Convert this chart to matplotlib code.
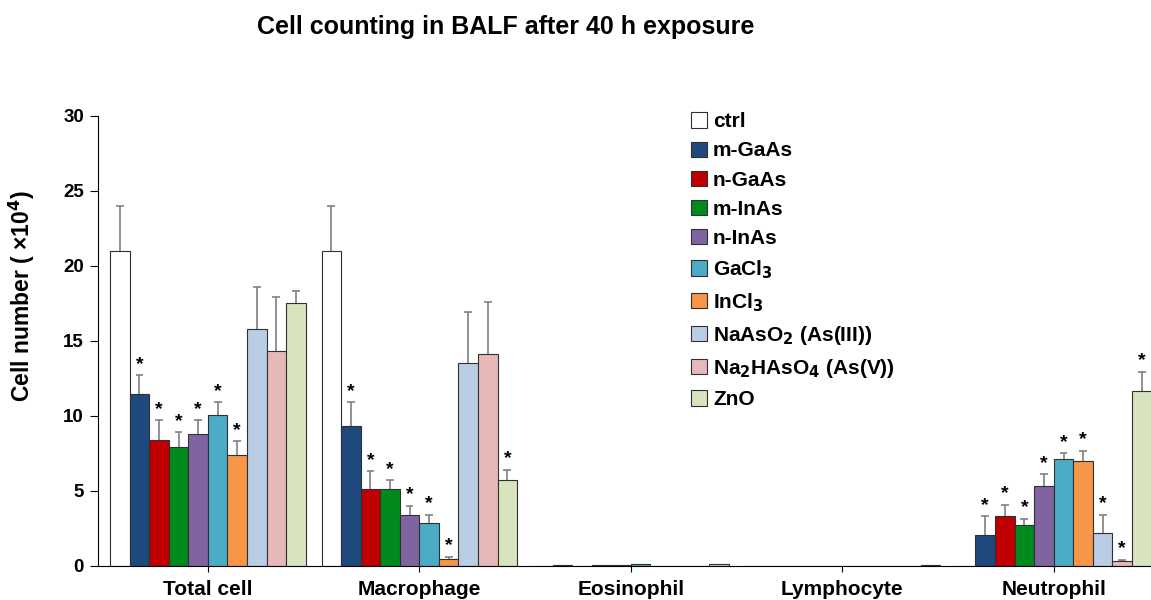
import matplotlib
matplotlib.use("Agg")
import matplotlib.pyplot as plt
import numpy as np
from matplotlib.patches import Patch

plt.rcParams['font.family'] = ['Liberation Sans', 'DejaVu Sans']
plt.rcParams['font.weight'] = 'bold'
plt.rcParams['mathtext.default'] = 'bf'

groups = ['Total cell', 'Macrophage', 'Eosinophil', 'Lymphocyte', 'Neutrophil']
series = ['ctrl', 'm-GaAs', 'n-GaAs', 'm-InAs', 'n-InAs', 'GaCl$_3$', 'InCl$_3$',
          'NaAsO$_2$ (As(III))', 'Na$_2$HAsO$_4$ (As(V))', 'ZnO']
colors = ['#ffffff', '#1f497d', '#c00000', '#008a1e', '#8064a2', '#4bacc6',
          '#f79646', '#b9cde5', '#e6b9b8', '#d7e4bd']

# mean values per series, one entry per group
means = {
    'ctrl':     [21.0, 21.0, 0.0, 0.0, 0.0],
    'm-GaAs':   [11.45, 9.35, 0.08, 0.0, 2.05],
    'n-GaAs':   [8.4, 5.1, 0.0, 0.0, 3.3],
    'm-InAs':   [7.9, 5.15, 0.05, 0.0, 2.7],
    'n-InAs':   [8.8, 3.4, 0.05, 0.0, 5.3],
    'GaCl3':    [10.05, 2.85, 0.1, 0.0, 7.1],
    'InCl3':    [7.4, 0.45, 0.0, 0.0, 6.97],
    'NaAsO2':   [15.8, 13.55, 0.0, 0.0, 2.2],
    'Na2HAsO4': [14.3, 14.1, 0.0, 0.0, 0.33],
    'ZnO':      [17.5, 5.75, 0.1, 0.05, 11.65],
}
# upper SD
errs = {
    'ctrl':     [3.0, 3.0, 0.0, 0.0, 0.0],
    'm-GaAs':   [1.25, 1.55, 0.0, 0.0, 1.25],
    'n-GaAs':   [1.3, 1.2, 0.0, 0.0, 0.75],
    'm-InAs':   [1.0, 0.55, 0.0, 0.0, 0.45],
    'n-InAs':   [0.9, 0.6, 0.0, 0.0, 0.8],
    'GaCl3':    [0.85, 0.55, 0.0, 0.0, 0.4],
    'InCl3':    [0.9, 0.15, 0.0, 0.0, 0.7],
    'NaAsO2':   [2.8, 3.35, 0.0, 0.0, 1.2],
    'Na2HAsO4': [3.6, 3.5, 0.0, 0.0, 0.07],
    'ZnO':      [0.8, 0.65, 0.0, 0.0, 1.3],
}
# significance marks
stars = {
    'ctrl':     [0, 0, 0, 0, 0],
    'm-GaAs':   [1, 1, 0, 0, 1],
    'n-GaAs':   [1, 1, 0, 0, 1],
    'm-InAs':   [1, 1, 0, 0, 1],
    'n-InAs':   [1, 1, 0, 0, 1],
    'GaCl3':    [1, 1, 0, 0, 1],
    'InCl3':    [1, 1, 0, 0, 1],
    'NaAsO2':   [0, 0, 0, 0, 1],
    'Na2HAsO4': [0, 0, 0, 0, 1],
    'ZnO':      [0, 1, 0, 0, 1],
}

fig = plt.figure(figsize=(11.51, 6.0), dpi=100)
ax = fig.add_axes([0.0851, 0.0567, 0.9149, 0.75])

x = np.arange(len(groups))
w = 0.0925
keys = list(means.keys())
n = len(keys)
for i, k in enumerate(keys):
    pos = x + (i - (n - 1) / 2) * w
    m = np.array(means[k])
    e = np.array(errs[k])
    ax.bar(pos, m, width=w, color=colors[i], edgecolor='#303030', linewidth=0.8, zorder=2)
    has = e > 0
    ax.vlines(pos[has], m[has], m[has] + e[has], color='#808080', linewidth=1.2, zorder=1)
    ax.hlines(m[has] + e[has], pos[has] - w * 0.2, pos[has] + w * 0.2, color='#808080',
              linewidth=1.2, zorder=1)
    for j in range(len(groups)):
        if stars[k][j]:
            ax.annotate('*', (pos[j], m[j] + e[j]), xytext=(0, 2), textcoords='offset points',
                        ha='center', va='bottom', fontsize=14)

ax.set_xlim(-0.52, 4.46)
ax.set_ylim(0, 30)
ax.set_yticks(np.arange(0, 31, 5))
ax.set_xticks(x)
ax.set_xticklabels(groups, fontsize=15, fontweight='bold')
ax.tick_params(axis='y', labelsize=13.5, length=6, pad=4)
ax.tick_params(axis='x', length=4, pad=6)
for lab in ax.get_yticklabels():
    lab.set_fontweight('bold')
ax.spines['top'].set_visible(False)
ax.spines['right'].set_visible(False)
ax.set_ylabel('Cell number ( ×10$^4$)', fontsize=16.5, fontweight='bold')
ax.yaxis.set_label_coords(-0.058, 0.6)

handles = [Patch(facecolor=c, edgecolor='#303030', linewidth=0.8) for c in colors]
ax.legend(handles, series, loc='upper left', bbox_to_anchor=(0.5455, 1.05), frameon=False,
          handlelength=0.75, handleheight=0.75, handletextpad=0.3,
          labelspacing=0.49, prop={'weight': 'bold', 'size': 15})

fig.text(0.439, 0.955, 'Cell counting in BALF after 40 h exposure', ha='center', va='center',
         fontsize=18, fontweight='bold')

fig.savefig('out.png', dpi=100)
